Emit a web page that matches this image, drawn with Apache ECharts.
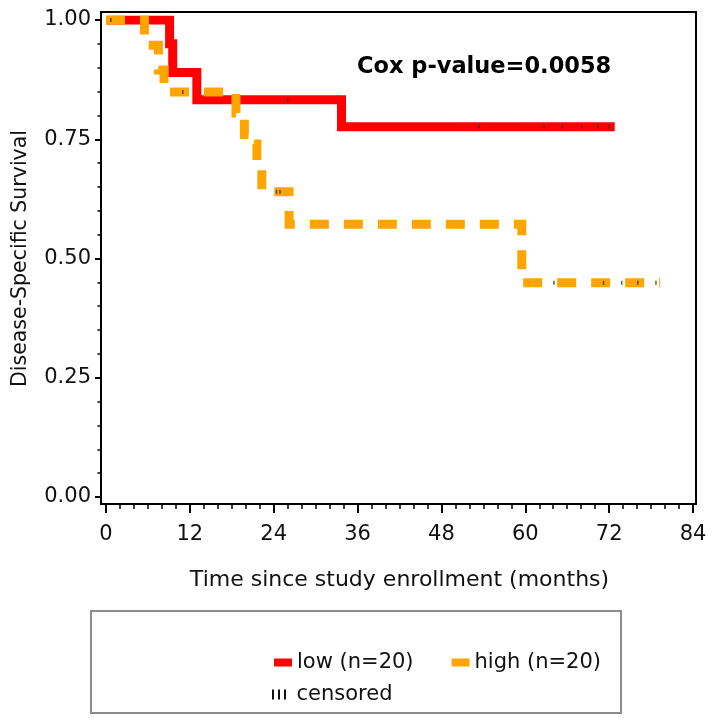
<!DOCTYPE html>
<html>
<head>
<meta charset="utf-8">
<script src="https://cdn.jsdelivr.net/npm/echarts@6/dist/echarts.min.js"></script>
<style>
html,body{margin:0;padding:0;background:#fff;}
#chart{width:712px;height:722px;}
</style>
</head>
<body>
<div id="chart"></div>
<script>
// ---- data ----
var xTicks = [0, 12, 24, 36, 48, 60, 72, 84];
var yTicks = [0.00, 0.25, 0.50, 0.75, 1.00];

// Kaplan-Meier step points (time in months, survival after that time)
var lowTimes = [0, 9.1, 9.55, 13.0, 33.7, 72.8];
var lowSurv  = [1.0, 0.95, 0.89, 0.833, 0.776, 0.776];

var highTimes = [0, 5.5, 7.5, 8.3, 18.6, 19.8, 21.0, 21.6, 22.3, 26.2, 59.5, 79.3];
var highSurv  = [1.0, 0.947, 0.895, 0.849, 0.805, 0.76, 0.74, 0.70, 0.64, 0.572, 0.449, 0.449];

// censoring times
var lowCensor  = [0.7, 26.0, 53.4, 62.7, 65.3, 68.1, 70.4, 72.0];
var highCensor = [11.0, 24.4, 24.9, 64.1, 71.2, 73.8, 76.1, 78.7];

var seriesNames = ['low (n=20)', 'high (n=20)', 'censored'];
var coxText = 'Cox p-value=0.0058';
var xTitle = 'Time since study enrollment (months)';
var yTitle = 'Disease-Specific Survival';

function pairs(t, s) { return t.map(function (v, i) { return [v, s[i]]; }); }
function survAt(times, surv, t) {
  var v = surv[0];
  for (var i = 0; i < times.length; i++) { if (times[i] <= t) v = surv[i]; }
  return v;
}
var censorPts = lowCensor.map(function (t) { return [t, survAt(lowTimes, lowSurv, t)]; })
  .concat(highCensor.map(function (t) { return [t, survAt(highTimes, highSurv, t)]; }));

var FONT = 'DejaVu Sans';
var chart = echarts.init(document.getElementById('chart'), null, {renderer: 'canvas'});
chart.setOption({
  animation: false,
  backgroundColor: '#fff',
  grid: {left: 106, right: 19, top: 20, bottom: 225, containLabel: false},
  xAxis: {
    type: 'value', min: xTicks[0], max: xTicks[xTicks.length - 1], interval: 12, offset: 7,
    axisLine: {show: true, onZero: false, lineStyle: {color: '#000', width: 2}},
    axisTick: {show: true, length: 9, lineStyle: {color: '#000', width: 2}},
    minorTick: {show: true, splitNumber: 6, length: 5, lineStyle: {color: '#000', width: 1.5}},
    splitLine: {show: false},
    axisLabel: {fontSize: 21, margin: 20, color: '#111', fontFamily: FONT},
    name: xTitle, nameLocation: 'middle', nameGap: 65,
    nameTextStyle: {fontSize: 22, color: '#111', fontFamily: FONT}
  },
  yAxis: {
    type: 'value', min: yTicks[0], max: yTicks[yTicks.length - 1], interval: 0.25, offset: 5,
    axisLine: {show: true, onZero: false, lineStyle: {color: '#000', width: 2}},
    axisTick: {show: true, length: 6, lineStyle: {color: '#000', width: 2}},
    minorTick: {show: true, splitNumber: 5, length: 3.5, lineStyle: {color: '#000', width: 1.5}},
    splitLine: {show: false},
    axisLabel: {fontSize: 21, margin: 10, color: '#111', fontFamily: FONT,
      formatter: function (v) { return v.toFixed(2); }},
    name: yTitle, nameLocation: 'middle', nameGap: 70,
    nameTextStyle: {fontSize: 20.5, color: '#111', fontFamily: FONT}
  },
  legend: [{
    data: [seriesNames[0], seriesNames[1]],
    left: 274, top: 652, padding: 0, orient: 'horizontal', itemGap: 38,
    itemWidth: 18, itemHeight: 8, icon: 'rect',
    textStyle: {fontSize: 21, color: '#111', fontFamily: FONT, padding: [10, 0, 0, 0]},
    selectedMode: false
  }, {
    data: [{name: seriesNames[2], icon: 'path://M0,0h2v10h-2z M6,0h2v10h-2z M12,0h2v10h-2z'}],
    left: 272, top: 684, padding: 0, itemWidth: 15, itemHeight: 10,
    textStyle: {fontSize: 21, color: '#111', fontFamily: FONT, padding: [4, 0, 0, 5]},
    itemStyle: {color: '#111', opacity: 1},
    selectedMode: false
  }],
  graphic: [
    {type: 'rect', shape: {x: 101, y: 12, width: 595, height: 492},
      style: {fill: 'none', stroke: '#000', lineWidth: 2}, z: 100, silent: true},
    {type: 'rect', shape: {x: 91, y: 611, width: 530, height: 102},
      style: {fill: 'none', stroke: '#8c8c8c', lineWidth: 2}, z: 100, silent: true},
    {type: 'text', x: 357, y: 67, z: 100,
      style: {text: coxText, font: 'bold 22.5px "DejaVu Sans"', fill: '#000', verticalAlign: 'middle'}}
  ],
  series: [{
    name: seriesNames[0], type: 'line', step: 'end', data: pairs(lowTimes, lowSurv),
    showSymbol: false, symbol: 'none', color: '#ff0000',
    lineStyle: {color: '#ff0000', width: 9, cap: 'butt', join: 'miter'}, z: 2
  }, {
    name: seriesNames[1], type: 'line', step: 'end', data: pairs(highTimes, highSurv),
    showSymbol: false, symbol: 'none', color: '#ffa500',
    lineStyle: {color: '#ffa500', width: 9, type: [19, 15], cap: 'butt', join: 'miter'}, z: 3
  }, {
    name: seriesNames[2], type: 'scatter', data: censorPts,
    symbol: 'rect', symbolSize: [1.5, 4], color: '#333',
    itemStyle: {color: '#333', opacity: 0.8}, z: 4
  }]
});
</script>
</body>
</html>
